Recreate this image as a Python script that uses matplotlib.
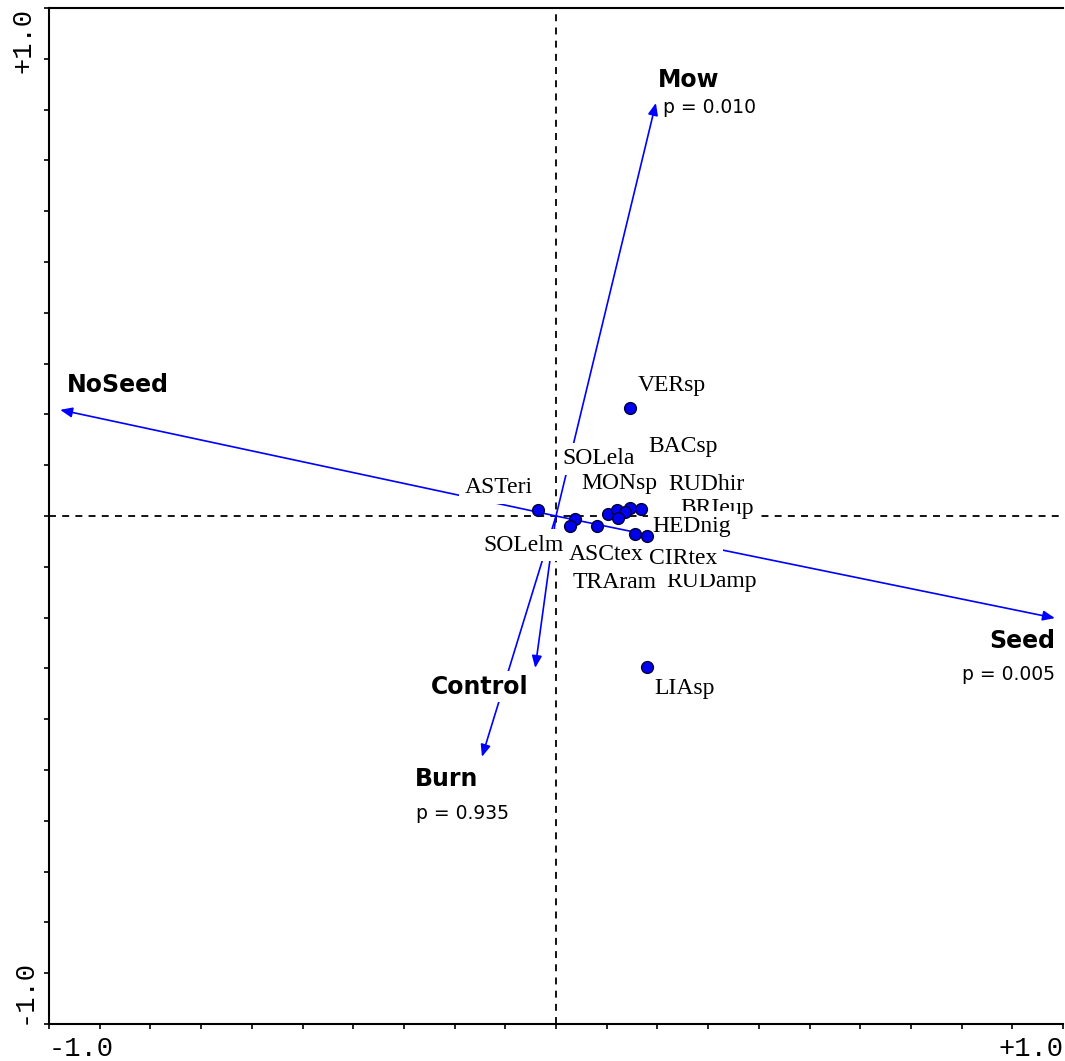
import numpy as np
import matplotlib
matplotlib.use("Agg")
import matplotlib.pyplot as plt
from matplotlib.font_manager import FontProperties

# Explanatory variables (biplot arrows) and their permutation-test p values
env_names = ["Mow", "NoSeed", "Seed", "Control", "Burn"]
env_x = [0.197, -0.978, 0.984, -0.041, -0.146]
env_y = [0.813, 0.209, -0.201, -0.299, -0.474]
env_p = ["p = 0.010", None, "p = 0.005", None, "p = 0.935"]

# Species scores
species = ["VERsp", "LIAsp", "ASTeri", "ASCtex", "SOLelm", "TRAram", "SOLela",
           "MONsp", "BACsp", "RUDhir", "BRIeup", "HEDnig", "RUDamp", "CIRtex"]
sp_x = [0.146, 0.179, -0.036, 0.037, 0.028, 0.081, 0.103,
        0.120, 0.146, 0.168, 0.136, 0.179, 0.122, 0.156]
sp_y = [0.213, -0.297, 0.012, -0.006, -0.020, -0.020, 0.004,
        0.012, 0.016, 0.014, 0.008, -0.039, -0.004, -0.035]

# Axis end labels
xtick_labels = ["-1.0", "+1.0"]
ytick_labels = ["-1.0", "+1.0"]

# Label placement (offset in pixels from the point, horizontal alignment)
sp_offsets = {
    "VERsp": (8, 22, "left"), "LIAsp": (8, -22, "left"),
    "ASTeri": (-5, 22, "right"), "SOLelm": (-7, -19, "right"),
    "ASCtex": (-6, -35, "left"), "TRAram": (-25, -56, "left"),
    "SOLela": (-46, 55, "left"), "MONsp": (-35, 26, "left"),
    "BACsp": (18, 61, "left"), "RUDhir": (27, 24, "left"),
    "BRIeup": (55, 3, "left"), "HEDnig": (6, 9, "left"),
    "RUDamp": (49, -63, "left"), "CIRtex": (14, -25, "left"),
}
env_offsets = {
    "Mow": ((2, 23, "left"), (7, -5, "left")),
    "NoSeed": ((7, 25, "left"), None),
    "Seed": ((0, -23, "right"), (0, -56, "right")),
    "Control": ((-7, -19, "right"), None),
    "Burn": ((-67, -22, "left"), (-66, -57, "left")),
}

plt.rcParams["lines.scale_dashes"] = False

W, H = 1065, 1061
fig = plt.figure(figsize=(W / 100, H / 100), dpi=100)
ax = fig.add_axes([49 / W, 37 / H, 1014 / W, 1016 / H])
ax.set_xlim(-1, 1)
ax.set_ylim(-1, 1)

# Frame
for side in ("left", "bottom", "top"):
    ax.spines[side].set_linewidth(1.5)
    ax.spines[side].set_color("black")
ax.spines["right"].set_visible(False)

# Ticks every 0.1, labels only at the ends
ax.set_xticks([-1, 1], xtick_labels)
ax.set_yticks([-1, 1], ytick_labels)
ax.set_xticks(np.round(np.arange(-1, 1.001, 0.1), 1), minor=True)
ax.set_yticks(np.round(np.arange(-1, 1.001, 0.1), 1), minor=True)
ax.tick_params(which="both", direction="out", length=3.8, width=1.2,
               top=False, right=False)
ax.tick_params(axis="x", which="major", pad=4.5)
ax.tick_params(axis="y", which="major", pad=5)
tick_font = FontProperties(family="Liberation Mono", size=19.5)
xl = ax.get_xticklabels()
for t in xl:
    t.set_fontproperties(tick_font)
xl[0].set_ha("left")
xl[1].set_ha("right")
yl = ax.get_yticklabels()
for t in yl:
    t.set_fontproperties(tick_font)
    t.set_rotation(90)
yl[0].set_va("bottom")
yl[1].set_va("top")

# Zero lines
ax.axhline(0, color="black", lw=1.3, ls=(0, (5, 4.5)), zorder=1)
ax.axvline(0, color="black", lw=1.3, ls=(0, (5, 4.5)), zorder=1)

blue = "#0000ff"
env_box = dict(boxstyle="square,pad=0.15", fc="white", ec="none")
sp_box = dict(boxstyle="square,pad=0.22", fc="white", ec="none")

# Arrows for the explanatory variables
for name, x, y, p in zip(env_names, env_x, env_y, env_p):
    ax.annotate("", xy=(x, y), xytext=(0, 0),
                arrowprops=dict(arrowstyle="-|>,head_length=0.6,head_width=0.25",
                                color=blue, lw=1.2, shrinkA=0, shrinkB=0,
                                mutation_scale=12),
                zorder=2)
    lab, plab = env_offsets[name]
    ax.annotate(name, xy=(x, y), xytext=lab[:2], textcoords="offset pixels",
                ha=lab[2], va="center", fontsize=17, fontweight="bold",
                family="DejaVu Sans", color="black", bbox=env_box, zorder=4)
    if p is not None:
        ax.annotate(p, xy=(x, y), xytext=plab[:2], textcoords="offset pixels",
                    ha=plab[2], va="center", fontsize=13.5,
                    family="DejaVu Sans", color="black", bbox=env_box, zorder=4)

# Species labels (later ones are drawn over earlier ones)
for i, (name, x, y) in enumerate(zip(species, sp_x, sp_y)):
    dx, dy, ha = sp_offsets[name]
    ax.annotate(name, xy=(x, y), xytext=(dx, dy), textcoords="offset pixels",
                ha=ha, va="center", fontsize=17, family="Liberation Serif",
                color="black", bbox=sp_box, zorder=5 + i * 0.01)

# Species points
ax.plot(sp_x, sp_y, "o", ms=8.5, mfc="#0000ee", mec="#000033", mew=1.0,
        zorder=10, ls="none")

fig.savefig("out.png", dpi=100)
